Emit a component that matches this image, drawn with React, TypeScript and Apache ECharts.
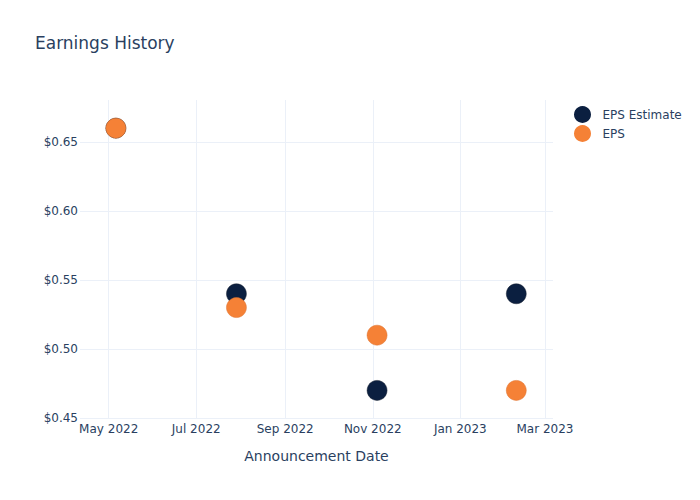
import React, { useEffect, useRef } from "react";
import * as echarts from "echarts";

const announcementDates = ["2022-05-06", "2022-07-29", "2022-11-04", "2023-02-09"];
const epsEstimate = [0.66, 0.54, 0.47, 0.54];
const epsActual = [0.66, 0.53, 0.51, 0.47];
const xTickDates = ["2022-05-01", "2022-07-01", "2022-09-01", "2022-11-01", "2023-01-01", "2023-03-01"];
const yTicks = [0.45, 0.5, 0.55, 0.6, 0.65];
const monthNames = ["Jan", "Feb", "Mar", "Apr", "May", "Jun", "Jul", "Aug", "Sep", "Oct", "Nov", "Dec"];

const toMs = (d: string) => {
  const [y, m, dd] = d.split("-").map(Number);
  return Date.UTC(y, m - 1, dd);
};

export default function App() {
  const ref = useRef<HTMLDivElement>(null);
  useEffect(() => {
    if (!ref.current) return;
    const chart = echarts.init(ref.current, undefined, { renderer: "svg" });
    const font = "DejaVu Sans, Verdana, sans-serif";
    const textColor = "#2a3f5f";
    const gridColor = "#ebf0f8";
    chart.setOption({
      animation: false,
      backgroundColor: "#fff",
      textStyle: { fontFamily: font },
      title: {
        text: "Earnings History",
        left: 30,
        top: 29,
        textStyle: { fontFamily: font, fontSize: 17, fontWeight: "normal", color: textColor },
      },
      legend: {
        orient: "vertical",
        left: 569,
        top: 101,
        itemWidth: 30,
        itemHeight: 17,
        itemGap: 2,
        icon: "circle",
        itemStyle: { borderWidth: 0 },
        textStyle: { fontFamily: font, fontSize: 12, color: textColor },
        data: ["EPS Estimate", "EPS"],
      },
      grid: { left: 80, right: 147, top: 100, bottom: 82 },
      xAxis: {
        type: "value",
        min: Date.UTC(2022, 3, 11),
        max: Date.UTC(2023, 2, 6, 14),
        name: "Announcement Date",
        nameLocation: "middle",
        nameGap: 31,
        nameTextStyle: { fontFamily: font, fontSize: 14, color: textColor },
        axisLine: { show: false },
        axisTick: { show: false, customValues: xTickDates.map(toMs) },
        axisLabel: {
          customValues: xTickDates.map(toMs),
          color: textColor,
          fontSize: 12,
          fontFamily: font,
          margin: 5,
          hideOverlap: false,
          formatter: (v: number) => {
            const d = new Date(v);
            return monthNames[d.getUTCMonth()] + " " + d.getUTCFullYear();
          },
        },
        splitLine: { show: true, lineStyle: { color: gridColor, width: 1 } },
      },
      yAxis: {
        type: "value",
        min: 0.45,
        max: 0.6804,
        axisLine: { show: false },
        axisTick: { show: false, customValues: yTicks },
        axisLabel: {
          customValues: yTicks,
          color: textColor,
          fontSize: 12,
          fontFamily: font,
          margin: 2,
          formatter: (v: number) => "$" + v.toFixed(2),
        },
        splitLine: { show: true, lineStyle: { color: gridColor, width: 1 } },
      },
      series: [
        {
          name: "EPS Estimate",
          type: "scatter",
          symbolSize: 20,
          itemStyle: { color: "#0b1f40", borderColor: "#1a2233", borderWidth: 0.5, opacity: 1 },
          data: announcementDates.map((d, i) => [toMs(d), epsEstimate[i]]),
        },
        {
          name: "EPS",
          type: "scatter",
          symbolSize: 20,
          itemStyle: { color: "#f58136", borderColor: "#dd7330", borderWidth: 0.5, opacity: 1 },
          data: announcementDates.map((d, i) => [toMs(d), epsActual[i]]),
        },
      ],
    });
    return () => chart.dispose();
  }, []);
  return <div ref={ref} style={{ width: 700, height: 500, position: "absolute", left: 0, top: 0 }} />;
}
